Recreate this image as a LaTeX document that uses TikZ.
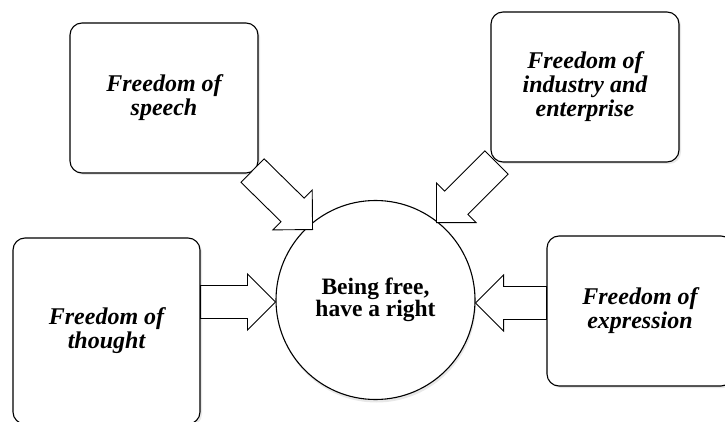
\documentclass[tikz,border=0pt]{standalone}
\usepackage{fontspec}
\setmainfont{Liberation Serif}
\usetikzlibrary{
    calc,
    shadows
}

\tikzset{
    freebox/.style={draw, line width=1.1pt, rounded corners=12pt, fill=white,
        drop shadow={opacity=0.18, shadow xshift=2pt, shadow yshift=-2pt},
        minimum width=188pt, minimum height=150pt, align=center,
        font=\fontsize{24}{24}\selectfont\bfseries\itshape},
    hubnode/.style={draw, circle, line width=1.1pt, fill=white,
        drop shadow={opacity=0.18, shadow xshift=1pt, shadow yshift=-3pt},
        minimum size=199pt, align=center,
        font=\fontsize{23.5}{22}\selectfont\bfseries},
    fatline/.style={draw, fill=white, line width=0.9pt, line join=miter}
}

% block arrow from #1 to #2
\newcommand{\fatarrow}[2]{%
    \coordinate (hd) at ($(#2)!28pt!(#1)$);
    \path[fatline] ($(#1)!16.5pt!90:(#2)$) -- ($(hd)!16.5pt!90:(#2)$)
        -- ($(hd)!28pt!90:(#2)$) -- (#2) -- ($(hd)!28pt!-90:(#2)$)
        -- ($(hd)!16.5pt!-90:(#2)$) -- ($(#1)!16.5pt!-90:(#2)$) -- cycle;
}

\begin{document}
\begin{tikzpicture}[x=1pt,y=-1pt]
\useasboundingbox (0,0) rectangle (725,422);
\clip (0,0) rectangle (725,422);

\node[freebox] (speech) at (164,98) {Freedom of\\speech};
\node[freebox] (industry) at (585,87) {Freedom of\\industry and\\enterprise};
\node[freebox, minimum width=187pt, minimum height=186pt] (thought) at (106.5,331) {Freedom of\\thought};
\node[freebox, minimum width=186pt] (expression) at (640,311) {Freedom of\\expression};

\node[hubnode] (hub) at (375.5,300) {Being free,\\have a right};

% feet and tips of the arrows
\coordinate (sfoot) at ($(speech.south east)+(-6,-3)$);
\coordinate (stip) at ($(sfoot)+(60,59)$);
\coordinate (ifoot) at ($(industry.south west)+(6,0)$);
\coordinate (itip) at ($(ifoot)+(-60,60)$);
\coordinate (ttip) at ($(hub.west)+(0,2)$);
\coordinate (tfoot) at (thought.east |- ttip);
\coordinate (etip) at ($(hub.east)+(0,3)$);
\coordinate (efoot) at (expression.west |- etip);

\fatarrow{sfoot}{stip}
\fatarrow{ifoot}{itip}
\fatarrow{tfoot}{ttip}
\fatarrow{efoot}{etip}
\end{tikzpicture}
\end{document}
